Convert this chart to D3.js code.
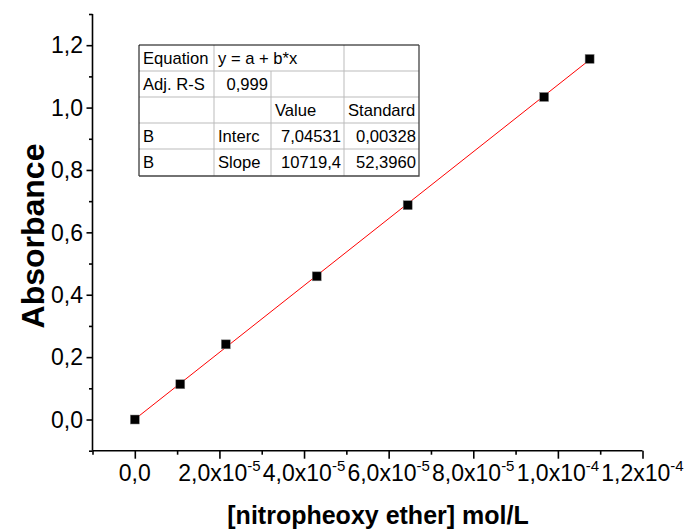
<!DOCTYPE html>
<html><head><meta charset="utf-8">
<script src="https://cdn.jsdelivr.net/npm/d3@7"></script>
<style>body{margin:0;background:#fff}svg{display:block}text{font-family:Arial,"Liberation Sans",sans-serif}</style>
</head><body>
<script>
const concentrations = [0, 1.075e-5, 2.15e-5, 4.3e-5, 6.45e-5, 9.675e-5, 1.075e-4];
const absorbances = [0.0, 0.113, 0.241, 0.459, 0.687, 1.034, 1.156];
const fitIntercept = 0.000704531;
const fitSlope = 10719.4;
const xMajorTicks = [0, 2e-5, 4e-5, 6e-5, 8e-5, 1e-4, 1.2e-4];
const xTickMantissa = ["0,0", "2,0x10", "4,0x10", "6,0x10", "8,0x10", "1,0x10", "1,2x10"];
const xTickExponent = ["", "-5", "-5", "-5", "-5", "-4", "-4"];
const yMajorTicks = [0, 0.2, 0.4, 0.6, 0.8, 1.0, 1.2];
const yTickLabels = ["0,0", "0,2", "0,4", "0,6", "0,8", "1,0", "1,2"];
const tableRows = [
  ["Equation", "y = a + b*x", null, ""],
  ["Adj. R-S", "0,999", "", ""],
  ["", "", "Value", "Standard"],
  ["B", "Interc", "7,04531", "0,00328"],
  ["B", "Slope", "10719,4", "52,3960"]
];
const xTitle = "[nitropheoxy ether] mol/L";
const yTitle = "Absorbance";

const W = 685, H = 529;
const svg = d3.select("body").append("svg").attr("width", W).attr("height", H);
const x = d3.scaleLinear().domain([-1e-5, 1.3e-4 - 1e-5]).range([92.5, 642.5]);
const y = d3.scaleLinear().domain([-0.1, 1.3]).range([450.7, 14]);

const xAxisY = y(-0.1), yAxisX = x(-1e-5);
const xMinor = d3.range(-1, 13).map(i => i * 1e-5).filter(v => !xMajorTicks.some(m => Math.abs(m - v) < 1e-9));
const yMinor = d3.range(-1, 14).map(i => i / 10).filter(v => !yMajorTicks.some(m => Math.abs(m - v) < 1e-9));

const xAxisMajor = d3.axisBottom(x).tickValues(xMajorTicks).tickSize(8).tickFormat("");
const xAxisMinor = d3.axisBottom(x).tickValues(xMinor).tickSize(4).tickFormat("");
const yAxisMajor = d3.axisLeft(y).tickValues(yMajorTicks).tickSize(6).tickFormat("");
const yAxisMinor = d3.axisLeft(y).tickValues(yMinor).tickSize(3.5).tickFormat("");

function style(g){ g.selectAll("path,line").attr("stroke","#000").attr("stroke-width",1.6); }
svg.append("g").attr("transform",`translate(0,${xAxisY})`).call(xAxisMajor).call(g=>g.select("path").attr("d",`M${x(-1e-5)},0H${x(1.2e-4)}`)).call(style);
svg.append("g").attr("transform",`translate(0,${xAxisY})`).call(xAxisMinor).call(g=>g.select("path").remove()).call(style);
svg.append("g").attr("transform",`translate(${yAxisX},0)`).call(yAxisMajor).call(g=>g.select("path").attr("d",`M0,${y(-0.1)}V${y(1.3)}`)).call(style);
svg.append("g").attr("transform",`translate(${yAxisX},0)`).call(yAxisMinor).call(g=>g.select("path").remove()).call(style);

xMajorTicks.forEach((v,i)=>{
  const t = svg.append("text").attr("x", x(v)).attr("y", 481).attr("text-anchor","middle")
    .attr("font-size", 23).attr("fill","#000");
  t.append("tspan").text(xTickMantissa[i]);
  if (xTickExponent[i]) t.append("tspan").attr("font-size", 15).attr("dy", -10).text(xTickExponent[i]);
});
yMajorTicks.forEach((v,i)=>{
  svg.append("text").attr("x", 83).attr("y", y(v)).attr("dy","0.36em").attr("text-anchor","end")
    .attr("font-size", 23).attr("fill","#000").text(yTickLabels[i]);
});

svg.append("text").attr("x", 378).attr("y", 524).attr("text-anchor","middle")
  .attr("font-size", 25).attr("font-weight","bold").text(xTitle);
svg.append("text").attr("transform",`translate(44,236) rotate(-90)`).attr("text-anchor","middle")
  .attr("font-size", 32).attr("font-weight","bold").text(yTitle);

const x0 = concentrations[0], x1 = concentrations[concentrations.length-1];
svg.append("line").attr("x1", x(x0)).attr("y1", y(fitIntercept + fitSlope*x0))
  .attr("x2", x(x1)).attr("y2", y(fitIntercept + fitSlope*x1))
  .attr("stroke","#ff0000").attr("stroke-width",1);

const s = 9;
svg.selectAll("rect.pt").data(concentrations).join("rect").attr("class","pt")
  .attr("x", d => x(d) - s/2).attr("y", (d,i) => y(absorbances[i]) - s/2)
  .attr("width", s).attr("height", s).attr("fill","#000")
  .attr("stroke","#888").attr("stroke-width",0.5);

const colX = [139, 214, 271, 344, 419];
const rowY = [45, 71, 97, 123, 149, 176];
const tg = svg.append("g");
tg.append("rect").attr("x", colX[0]).attr("y", rowY[0]).attr("width", colX[4]-colX[0]).attr("height", rowY[5]-rowY[0])
  .attr("fill","#fff").attr("stroke","none");
for (let r=1;r<5;r++) tg.append("line").attr("x1",colX[0]).attr("x2",colX[4]).attr("y1",rowY[r]).attr("y2",rowY[r]).attr("stroke","#bbb").attr("stroke-width",1);
tg.append("line").attr("x1",colX[1]).attr("x2",colX[1]).attr("y1",rowY[0]).attr("y2",rowY[5]).attr("stroke","#bbb");
tg.append("line").attr("x1",colX[2]).attr("x2",colX[2]).attr("y1",rowY[1]).attr("y2",rowY[5]).attr("stroke","#bbb");
tg.append("line").attr("x1",colX[3]).attr("x2",colX[3]).attr("y1",rowY[0]).attr("y2",rowY[5]).attr("stroke","#bbb");
tg.append("path").attr("d",`M${colX[0]},${rowY[5]}V${rowY[0]}H${colX[4]}`).attr("fill","none").attr("stroke","#000").attr("stroke-width",1);
tg.append("path").attr("d",`M${colX[4]},${rowY[0]}V${rowY[5]}H${colX[0]}`).attr("fill","none").attr("stroke","#444").attr("stroke-width",1.3);

const isNum = v => /^[0-9][0-9,]*$/.test(v);
tableRows.forEach((row,r)=>{
  row.forEach((cell,c)=>{
    if (cell === null || cell === "") return;
    const right = isNum(cell);
    const tx = right ? colX[c+1]-3 : colX[c]+4;
    tg.append("text").attr("x", tx).attr("y", (rowY[r]+rowY[r+1])/2).attr("dy","0.36em")
      .attr("text-anchor", right ? "end" : "start").attr("font-size", 16.6).attr("fill","#000").text(cell);
  });
});
</script>
</body></html>
